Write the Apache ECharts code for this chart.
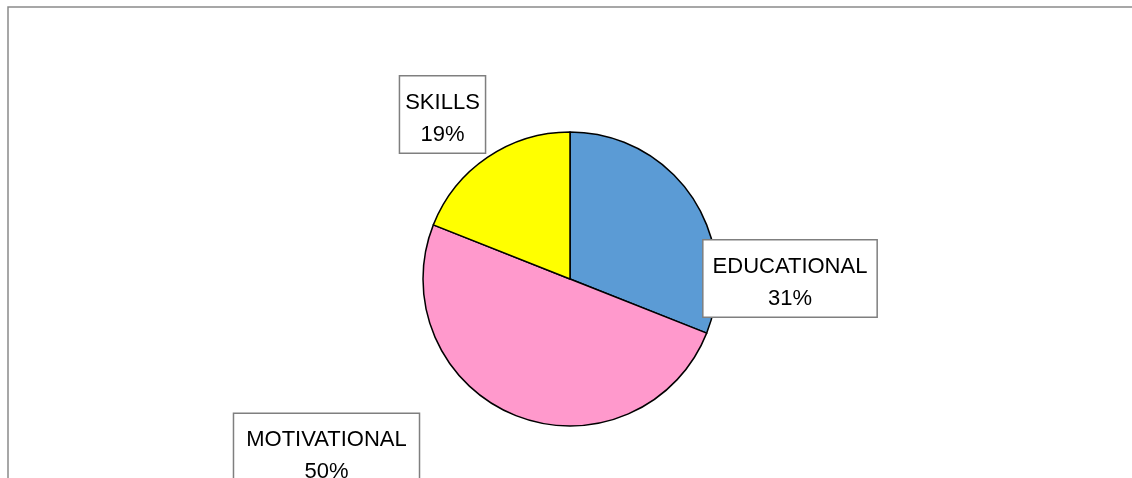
<!DOCTYPE html>
<html>
<head>
<meta charset="utf-8">
<script src="https://cdn.jsdelivr.net/npm/echarts@6/dist/echarts.min.js"></script>
<style>
  html, body { margin: 0; padding: 0; background: #ffffff; }
  #chart { width: 1132px; height: 478px; }
</style>
</head>
<body>
<div id="chart"></div>
<script>
// Share of each category (percent)
const categories = ['EDUCATIONAL', 'MOTIVATIONAL', 'SKILLS'];
const shares = [31, 50, 19];
const sliceColors = ['#5B9BD5', '#FF99CC', '#FFFF00'];

// Label box placement (centre of each callout box) and side padding
const labelCentres = [[790, 278.5], [326.5, 452], [442.5, 114.5]];
const labelSidePad = [9, 12, 5];

const chart = echarts.init(document.getElementById('chart'), null, { renderer: 'canvas' });

const pieData = categories.map((name, i) => ({
  name: name,
  value: shares[i],
  itemStyle: { color: sliceColors[i] },
  label: { padding: [5, labelSidePad[i], 3, labelSidePad[i]] }
}));

const textLine = { fontFamily: 'Liberation Sans', fontSize: 22, color: '#000000' };

chart.setOption({
  backgroundColor: '#ffffff',
  animation: false,
  graphic: [{
    type: 'rect',
    silent: true,
    shape: { x: 8, y: 7, width: 1140, height: 500 },
    style: { fill: 'none', stroke: '#8a8a8a', lineWidth: 1.5 }
  }],
  series: [{
    type: 'pie',
    center: [570, 279],
    radius: [0, 147],
    startAngle: 90,
    clockwise: true,
    data: pieData,
    itemStyle: { borderColor: '#000000', borderWidth: 1.5 },
    labelLine: { show: false },
    label: {
      show: true,
      position: 'outside',
      formatter: p => '{n|' + p.name + '}\n{p|' + Math.round(p.percent) + '%}',
      align: 'center',
      backgroundColor: '#ffffff',
      borderColor: '#7f7f7f',
      borderWidth: 1.5,
      rich: {
        n: Object.assign({ lineHeight: 36, padding: [6, 0, 0, 0] }, textLine),
        p: Object.assign({ lineHeight: 32, padding: [2, 0, 0, 0] }, textLine)
      }
    },
    labelLayout: function (params) {
      const c = labelCentres[params.dataIndex];
      return { x: c[0], y: c[1], align: 'center', verticalAlign: 'middle' };
    },
    emphasis: { disabled: true }
  }]
});
</script>
</body>
</html>
